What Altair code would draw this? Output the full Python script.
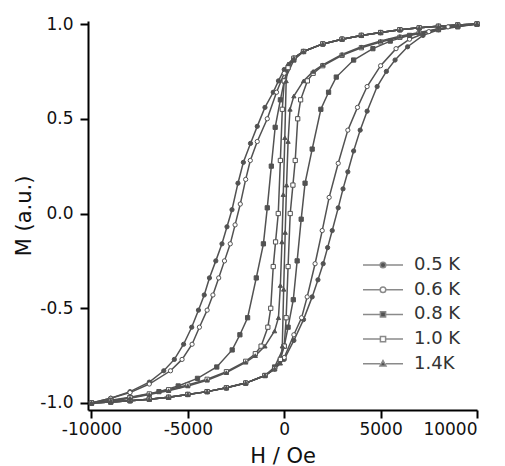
import altair as alt
import pandas as pd

# ---- data ----
series = ["0.5 K", "0.6 K", "0.8 K", "1.0 K", "1.4K"]

h05_down = [10000, 9000, 8000, 7000, 6000, 5000, 4000, 3000, 2000, 1000, 500, 0, -300, -570, -1000, -1400, -1750, -2120, -2400, -2710, -2970, -3230, -3550, -3880, -4150, -4450, -4800, -5220, -5700, -6250, -7000, -8000, -9000, -10000]
m05_down = [1.0, 0.995, 0.988, 0.98, 0.97, 0.955, 0.94, 0.92, 0.895, 0.855, 0.82, 0.76, 0.70, 0.64, 0.56, 0.46, 0.37, 0.27, 0.16, 0.02, -0.07, -0.16, -0.25, -0.34, -0.43, -0.51, -0.60, -0.69, -0.77, -0.83, -0.89, -0.94, -0.975, -1.0]
h05_up = [-10000, -9000, -8000, -7000, -6000, -5000, -4000, -3000, -2000, -1000, -500, 0, 500, 1000, 1450, 1750, 2020, 2250, 2490, 2800, 3050, 3300, 3600, 3940, 4300, 4820, 5300, 5750, 6400, 7200, 8000, 9000, 10000]
m05_up = [-1.0, -0.995, -0.988, -0.98, -0.97, -0.955, -0.94, -0.92, -0.895, -0.855, -0.82, -0.77, -0.67, -0.56, -0.44, -0.35, -0.265, -0.18, -0.09, 0.03, 0.13, 0.22, 0.33, 0.44, 0.54, 0.67, 0.75, 0.81, 0.88, 0.94, 0.97, 0.99, 1.0]

h06_down = [10000, 9000, 8000, 7000, 6000, 5000, 4000, 3000, 2000, 1000, 500, 0, -400, -880, -1400, -1760, -2000, -2280, -2550, -2800, -3100, -3400, -3700, -4000, -4400, -4780, -5300, -5900, -7000, -8000, -9000, -10000]
m06_down = [1.0, 0.995, 0.988, 0.98, 0.97, 0.955, 0.94, 0.92, 0.895, 0.855, 0.82, 0.74, 0.64, 0.50, 0.38, 0.28, 0.18, 0.05, -0.06, -0.16, -0.25, -0.34, -0.43, -0.51, -0.60, -0.69, -0.77, -0.83, -0.90, -0.945, -0.975, -1.0]
h06_up = [-10000, -9000, -8000, -7000, -6000, -5000, -4000, -3000, -2000, -1000, -500, 0, 500, 900, 1190, 1600, 1970, 2330, 2800, 3300, 3800, 4300, 5000, 5800, 6500, 7500, 8500, 10000]
m06_up = [-1.0, -0.995, -0.988, -0.98, -0.97, -0.955, -0.94, -0.92, -0.895, -0.855, -0.82, -0.76, -0.64, -0.55, -0.44, -0.265, -0.09, 0.085, 0.265, 0.44, 0.56, 0.67, 0.78, 0.87, 0.92, 0.96, 0.985, 1.0]

h08_down = [10000, 9000, 8000, 7000, 6000, 5000, 4000, 3000, 2000, 1000, 500, 0, -200, -470, -670, -880, -1080, -1450, -1900, -2300, -2700, -3500, -4500, -5500, -6500, -8000, -9000, -10000]
m08_down = [1.0, 0.995, 0.988, 0.98, 0.97, 0.955, 0.94, 0.92, 0.895, 0.855, 0.81, 0.70, 0.60, 0.455, 0.25, 0.03, -0.16, -0.34, -0.55, -0.64, -0.72, -0.81, -0.87, -0.91, -0.94, -0.97, -0.985, -1.0]
h08_up = [-10000, -9000, -8000, -7000, -6000, -5000, -4000, -3000, -2000, -1000, -500, 0, 200, 470, 670, 880, 1080, 1450, 1900, 2300, 2700, 3600, 4600, 5500, 6500, 8000, 9000, 10000]
m08_up = [-1.0, -0.995, -0.988, -0.98, -0.97, -0.955, -0.94, -0.92, -0.895, -0.855, -0.81, -0.70, -0.60, -0.455, -0.25, -0.03, 0.16, 0.34, 0.55, 0.64, 0.72, 0.81, 0.87, 0.91, 0.94, 0.97, 0.985, 1.0]

h10_down = [10000, 9000, 8000, 7000, 6000, 5000, 4000, 3000, 2000, 1000, 500, 200, 0, -100, -200, -310, -450, -570, -700, -850, -1200, -1500, -2000, -3000, -4000, -5000, -6000, -7000, -8000, -9000, -10000]
m10_down = [1.0, 0.995, 0.988, 0.98, 0.97, 0.955, 0.94, 0.92, 0.895, 0.855, 0.82, 0.77, 0.70, 0.55, 0.28, 0.0, -0.15, -0.28, -0.50, -0.60, -0.70, -0.74, -0.78, -0.835, -0.875, -0.905, -0.93, -0.952, -0.972, -0.988, -1.0]
h10_up = [-10000, -9000, -8000, -7000, -6000, -5000, -4000, -3000, -2000, -1000, -500, -200, 0, 100, 200, 310, 450, 570, 700, 850, 1200, 1500, 2000, 3000, 4000, 5000, 6000, 7000, 8000, 9000, 10000]
m10_up = [-1.0, -0.995, -0.988, -0.98, -0.97, -0.955, -0.94, -0.92, -0.895, -0.855, -0.82, -0.77, -0.70, -0.55, -0.28, 0.0, 0.15, 0.28, 0.50, 0.60, 0.70, 0.74, 0.78, 0.835, 0.875, 0.905, 0.93, 0.952, 0.972, 0.988, 1.0]

h14_down = [10000, 9000, 8000, 7000, 6000, 5000, 4000, 3000, 2000, 1000, 500, 200, 100, 30, -50, -120, -200, -300, -500, -1000, -1500, -2000, -3000, -4000, -5000, -6000, -7000, -8000, -9000, -10000]
m14_down = [1.0, 0.995, 0.988, 0.98, 0.97, 0.955, 0.94, 0.92, 0.895, 0.855, 0.82, 0.79, 0.70, 0.40, 0.10, -0.15, -0.38, -0.55, -0.62, -0.70, -0.75, -0.785, -0.84, -0.88, -0.91, -0.935, -0.955, -0.975, -0.99, -1.0]
h14_up = [-10000, -9000, -8000, -7000, -6000, -5000, -4000, -3000, -2000, -1000, -500, -200, -100, -30, 50, 120, 200, 300, 500, 1000, 1500, 2000, 3000, 4000, 5000, 6000, 7000, 8000, 9000, 10000]
m14_up = [-1.0, -0.995, -0.988, -0.98, -0.97, -0.955, -0.94, -0.92, -0.895, -0.855, -0.82, -0.79, -0.70, -0.40, -0.10, 0.15, 0.38, 0.55, 0.62, 0.70, 0.75, 0.785, 0.84, 0.88, 0.91, 0.935, 0.955, 0.975, 0.99, 1.0]

branches = [
    (series[0], h05_down + h05_up, m05_down + m05_up),
    (series[1], h06_down + h06_up, m06_down + m06_up),
    (series[2], h08_down + h08_up, m08_down + m08_up),
    (series[3], h10_down + h10_up, m10_down + m10_up),
    (series[4], h14_down + h14_up, m14_down + m14_up),
]

rows = []
for name, hs, ms in branches:
    for i, (h, m) in enumerate(zip(hs, ms)):
        rows.append({"T": name, "H": h, "M": m, "idx": i})
df = pd.DataFrame(rows)

GRAY = "#525252"
FONT = "DejaVu Sans"

xscale = alt.Scale(domain=[-10180, 10000], nice=False, zero=False)
yscale = alt.Scale(domain=[-1.037, 1.016], nice=False, zero=False)

x_enc = alt.X("H:Q", scale=xscale, axis=alt.Axis(
    title="H / Oe", values=[-10000, -5000, 0, 5000, 10000], format="d",
    labelExpr="replace(datum.label, '\u2212', '-')",
    labelPadding=3, titlePadding=8))
y_enc = alt.Y("M:Q", scale=yscale, axis=alt.Axis(
    title="M (a.u.)", values=[-1.0, -0.5, 0.0, 0.5, 1.0], format=".1f",
    labelExpr="replace(datum.label, '\u2212', '-')",
    labelPadding=7, titlePadding=5))

base = alt.Chart(df)

lines = base.mark_line(color=GRAY, strokeWidth=1.5).encode(
    x=x_enc, y=y_enc, detail="T:N", order="idx:Q")

marker_specs = [
    (series[0], "circle", GRAY),
    (series[1], "circle", "white"),
    (series[2], "square", GRAY),
    (series[3], "square", "white"),
    (series[4], "triangle-up", GRAY),
]
point_layers = []
for name, shp, fl in marker_specs:
    point_layers.append(
        base.transform_filter(alt.datum.T == name).mark_point(
            shape=shp, filled=True, fill=fl, stroke=GRAY, strokeWidth=1.0,
            size=18, opacity=1).encode(x=x_enc, y=y_enc))

# legend glyphs: line with marker in the middle (unit = half of symbol width)
seg = "M-1,0L-0.14,0M0.14,0L1,0"
circ = "M0.14,0A0.14,0.14,0,1,1,-0.14,0A0.14,0.14,0,1,1,0.14,0Z"
sq = "M-0.13,-0.13L0.13,-0.13L0.13,0.13L-0.13,0.13Z"
tri = "M0,-0.16L0.15,0.11L-0.15,0.11Z"
legend_shapes = [seg + circ, seg + circ, seg + sq, seg + sq, seg + tri]
legend_fills = [GRAY, "white", GRAY, "white", GRAY]
legend_strokes = ["#8a8a8a"] * 5

leg = alt.Legend(orient="none", legendX=274, legendY=234, symbolSize=1600,
                 clipHeight=20, rowPadding=4.7, labelFont=FONT, labelFontSize=18,
                 labelColor="#333333", labelOffset=10, symbolStrokeWidth=1.5,
                 padding=0)

legend_df = pd.DataFrame({"T": series})
legend_layer = alt.Chart(legend_df).mark_point(
    filled=True, size=1600, strokeWidth=1.5, opacity=1,
    clip=True).encode(
    x=alt.value(-400), y=alt.value(-400),
    shape=alt.Shape("T:N", title=None, sort=series,
                    scale=alt.Scale(domain=series, range=legend_shapes), legend=leg),
    fill=alt.Fill("T:N", title=None, sort=series,
                  scale=alt.Scale(domain=series, range=legend_fills), legend=leg),
    stroke=alt.Stroke("T:N", title=None, sort=series,
                      scale=alt.Scale(domain=series, range=legend_strokes), legend=leg),
)

chart = alt.layer(lines, *point_layers, legend_layer).properties(
    width=389, height=389,
    background="white",
    autosize=alt.AutoSizeParams(type="none"),
    padding={"left": 88, "top": 21, "right": 28, "bottom": 56},
).configure_view(strokeWidth=0).configure_axis(
    grid=False, domainColor="black", domainWidth=2, tickColor="black",
    tickWidth=2, tickSize=8, labelFont=FONT, labelFontSize=17,
    labelColor="#111111", titleFont=FONT, titleFontSize=21,
    titleFontWeight="normal", titleColor="#111111",
)

chart.save("out.html", embed_options={"renderer": "svg", "actions": False})
